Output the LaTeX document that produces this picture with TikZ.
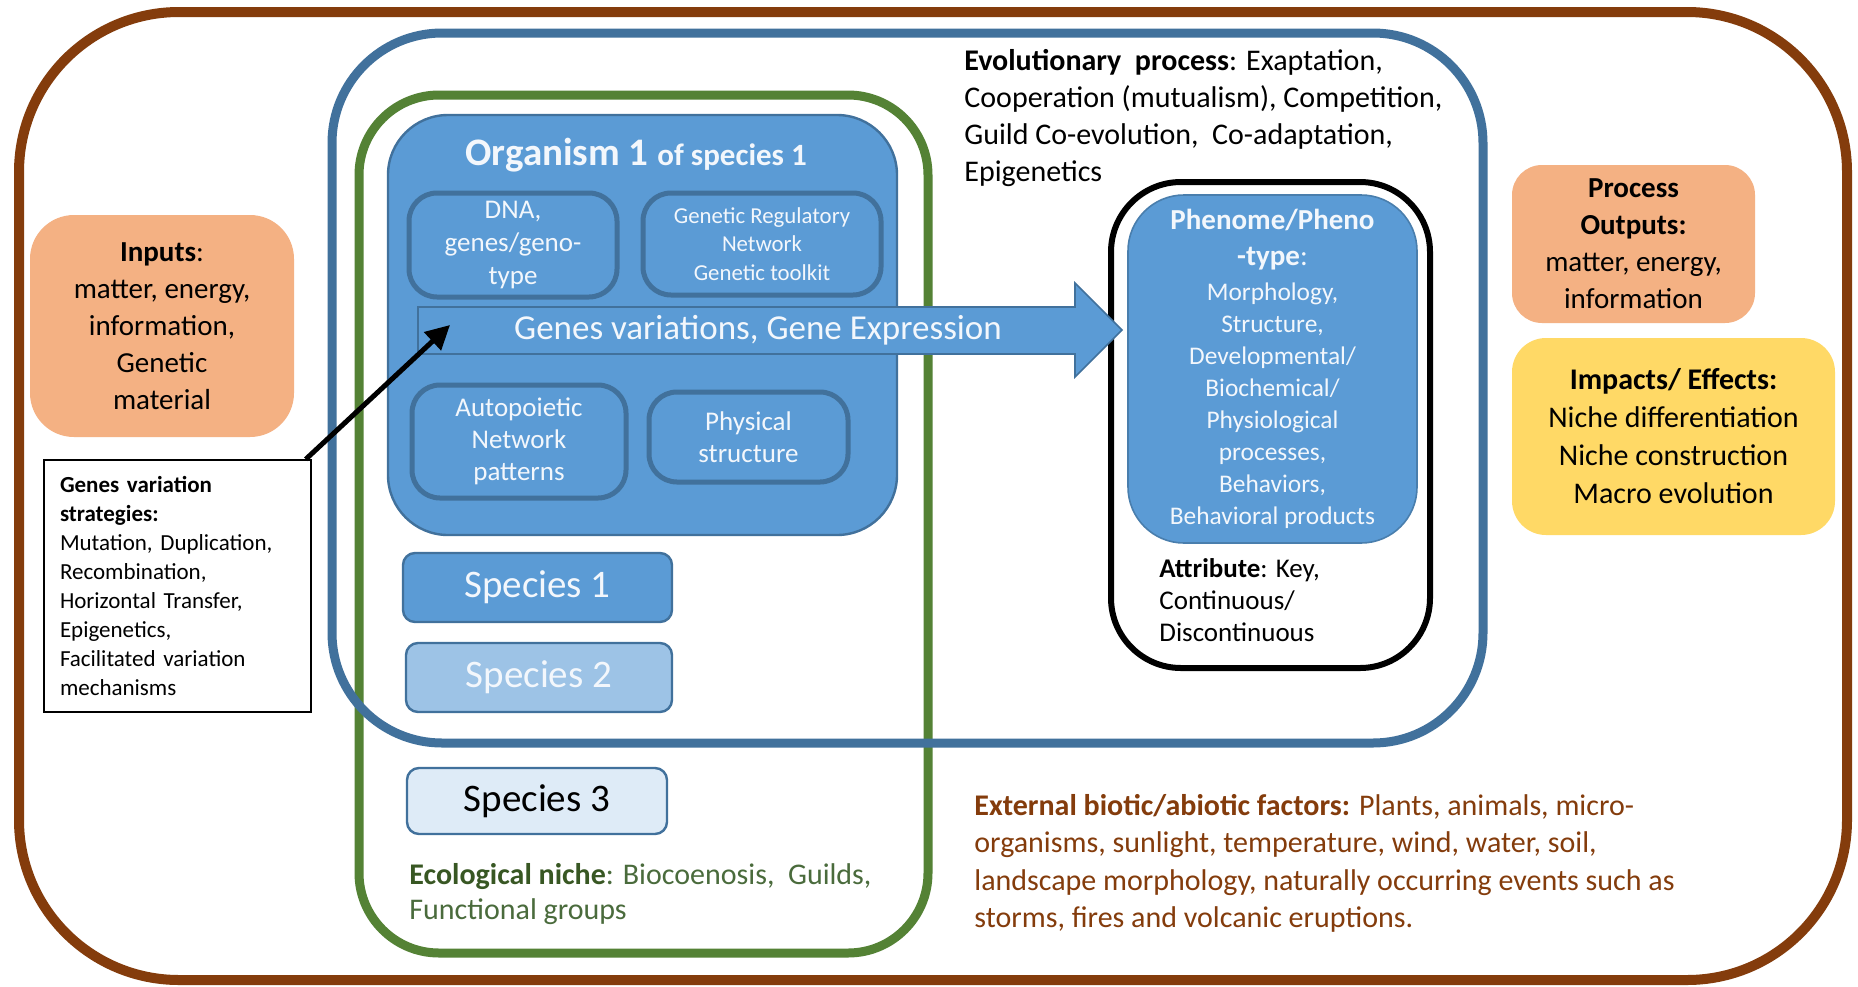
\documentclass[tikz,border=0pt]{standalone}
\usepackage{fontspec}
\setmainfont{Carlito}
\usetikzlibrary{arrows.meta}

\definecolor{framebrown}{HTML}{843C0C}
\definecolor{frameblue}{HTML}{41719C}
\definecolor{framegreen}{HTML}{548235}
\definecolor{cellblue}{HTML}{5B9BD5}
\definecolor{paleblue}{HTML}{9DC3E6}
\definecolor{icyblue}{HTML}{DEEBF7}
\definecolor{peach}{HTML}{F4B183}
\definecolor{butter}{HTML}{FFD966}
\definecolor{nichegreen}{HTML}{385723}
\definecolor{nichegreenlt}{HTML}{4A6B3C}
\definecolor{soilbrown}{HTML}{843C0C}
\definecolor{paletext}{HTML}{F3F7FC}

\newcommand\fsz[2]{\fontsize{#1}{#2}\selectfont}

\tikzset{
  framebox/.style={rectangle, inner sep=0pt},
  cell/.style={rectangle, rounded corners=14pt, fill=cellblue, draw=frameblue,
    line width=2.5pt, text=paletext, align=center, inner sep=0pt},
  speciesbox/.style={rectangle, rounded corners=6pt, draw=frameblue,
    line width=1.2pt, inner sep=0pt, font=\fsz{19.5}{23}},
  softbox/.style={rectangle, inner sep=0pt, align=center},
  caption/.style={inner sep=0pt, align=left},
}

\begin{document}
\begin{tikzpicture}[x=0.5pt, y=-0.5pt]
  \fill[white] (0,0) rectangle (1858,986);
  \useasboundingbox (0,0) rectangle (1858,986);

  % environment, niche and evolution frames
  \node[framebox, draw=framebrown, line width=5pt, rounded corners=80pt,
        minimum width=914pt, minimum height=484pt] (world) at (933,496) {};
  \node[framebox, draw=framegreen, line width=4.5pt, rounded corners=40pt,
        minimum width=284.5pt, minimum height=429pt] (niche) at (643.5,524) {};
  \node[framebox, draw=frameblue, line width=4.5pt, rounded corners=55pt,
        minimum width=575.5pt, minimum height=355pt] (evolution) at (907.5,388) {};

  % organism and its parts
  \node[framebox, fill=cellblue, draw=frameblue, line width=1.2pt, rounded corners=30pt,
        minimum width=254.5pt, minimum height=210pt] (organism) at (642.5,325) {};
  \node[anchor=base west, inner sep=0pt, text=paletext, font=\bfseries] (orgtitle) at (465,165)
        {\fsz{19.5}{23}Organism 1 \fsz{15.5}{18}of species 1};
  \node[cell, font=\fsz{13.5}{16.5}, minimum width=104pt, minimum height=52pt] (dna) at (513,245)
        {DNA,\\genes/geno-\\type};
  \node[cell, font=\fsz{11.4}{14.3}, minimum width=119pt, minimum height=51pt] (grn) at (762,244)
        {Genetic Regulatory\\Network\\Genetic toolkit};
  \node[cell, font=\fsz{13.5}{16}, minimum width=107pt, minimum height=56.5pt] (auto) at (519,441.5)
        {Autopoietic\\Network\\patterns};
  \node[cell, font=\fsz{13.5}{16}, minimum width=99.5pt, minimum height=45pt] (phys) at (748.5,437)
        {Physical\\structure};

  % species
  \node[speciesbox, fill=cellblue, text=paletext, minimum width=134.5pt, minimum height=34.5pt]
        (sp1) at (537.5,587.5) {Species 1};
  \node[speciesbox, fill=paleblue, text=paletext, minimum width=133pt, minimum height=34.5pt]
        (sp2) at (539,677.5) {Species 2};
  \node[speciesbox, fill=icyblue, text=black, minimum width=130pt, minimum height=33pt]
        (sp3) at (537,801) {Species 3};

  % phenotype
  \node[framebox, draw=black, line width=3pt, rounded corners=35pt,
        minimum width=159.5pt, minimum height=243pt] (phenoframe) at (1270.5,425) {};
  \node[softbox, fill=cellblue, draw=frameblue!70!cellblue, line width=0.8pt, rounded corners=28pt,
        text=paletext, font=\fsz{12.7}{16}, minimum width=144.5pt, minimum height=174pt]
        (pheno) at (1272.5,369)
        {{\fsz{14.5}{18}\bfseries Phenome/Pheno}\\[2pt]
         {\fsz{14.5}{18}\bfseries -type}{\fsz{14.5}{18}:}\\[1.5pt]
         Morphology,\\Structure,\\Developmental/\\Biochemical/\\Physiological\\processes,\\
         Behaviors,\\Behavioral products};
  \node[caption, anchor=west, font=\fsz{13.5}{16}] (attr) at (1159,600)
        {\textbf{Attribute}: Key,\\Continuous/\\Discontinuous};

  % gene expression block arrow
  \coordinate (gx0) at (418,307);
  \coordinate (gx1) at (1075,307);
  \coordinate (gx2) at (1075,283);
  \coordinate (gxtip) at (1122,330);
  \coordinate (gx3) at (1075,377);
  \coordinate (gx4) at (1075,354);
  \coordinate (gx5) at (418,354);
  \draw[fill=cellblue, draw=frameblue, line width=0.8pt]
        (gx0) -- (gx1) -- (gx2) -- (gxtip) -- (gx3) -- (gx4) -- (gx5) -- cycle;
  \node[inner sep=0pt, text=paletext, font=\fsz{17.5}{21}] (gxlabel) at (758,330)
        {Genes variations, Gene Expression};

  % inputs and outputs
  \node[softbox, fill=peach, rounded corners=22pt, font=\fsz{14.5}{18.5},
        minimum width=132pt, minimum height=111pt] (inputs) at (162,326)
        {\textbf{Inputs}:\\matter, energy,\\information,\\Genetic\\material};
  \node[rectangle, draw=black, line width=0.8pt, fill=white, align=left,
        text width=117.5pt, inner xsep=8pt, inner ysep=0pt, font=\fsz{11.5}{14.5},
        minimum height=126pt] (strat) at (177.5,586)
        {\textbf{Genes variation}\\\textbf{strategies:}\\Mutation, Duplication,\\Recombination,\\
         Horizontal Transfer,\\Epigenetics,\\Facilitated variation\\mechanisms};
  \node[softbox, fill=peach, rounded corners=15pt, font=\fsz{14.5}{18.5},
        minimum width=121.5pt, minimum height=79pt] (outputs) at (1633.5,244)
        {\textbf{Process}\\\textbf{Outputs:}\\matter, energy,\\information};
  \node[softbox, fill=butter, rounded corners=17pt, font=\fsz{15}{19},
        minimum width=161.5pt, minimum height=98.5pt] (impacts) at (1673.5,436.5)
        {\textbf{Impacts/ Effects:}\\Niche differentiation\\Niche construction\\Macro evolution};

  % captions
  \node[caption, anchor=west, font=\fsz{15}{18.5}] (evo) at (964,118)
        {\textbf{Evolutionary\ \ process}: Exaptation,\\Cooperation (mutualism), Competition,\\
         Guild Co-evolution,\ \ Co-adaptation,\\Epigenetics};
  \node[caption, anchor=west, font=\fsz{15}{17.5}, text=nichegreenlt] (nichetext) at (409,894.5)
        {{\color{nichegreen}\textbf{Ecological niche}}: Biocoenosis,\ \ Guilds,\\Functional groups};
  \node[caption, anchor=west, font=\fsz{15}{18.7}, text=soilbrown] (external) at (974,863.5)
        {\textbf{External biotic/abiotic factors:} Plants, animals, micro-\\
         organisms, sunlight, temperature, wind, water, soil,\\
         landscape morphology, naturally occurring events such as\\
         storms, fires and volcanic eruptions.};

  % variation strategies feed gene variation
  \coordinate (gvtip) at (450,325);
  \draw[line width=2.5pt, -{Triangle[length=12pt,width=12pt]}]
        ([xshift=-3pt]strat.north east) -- (gvtip);
\end{tikzpicture}
\end{document}
